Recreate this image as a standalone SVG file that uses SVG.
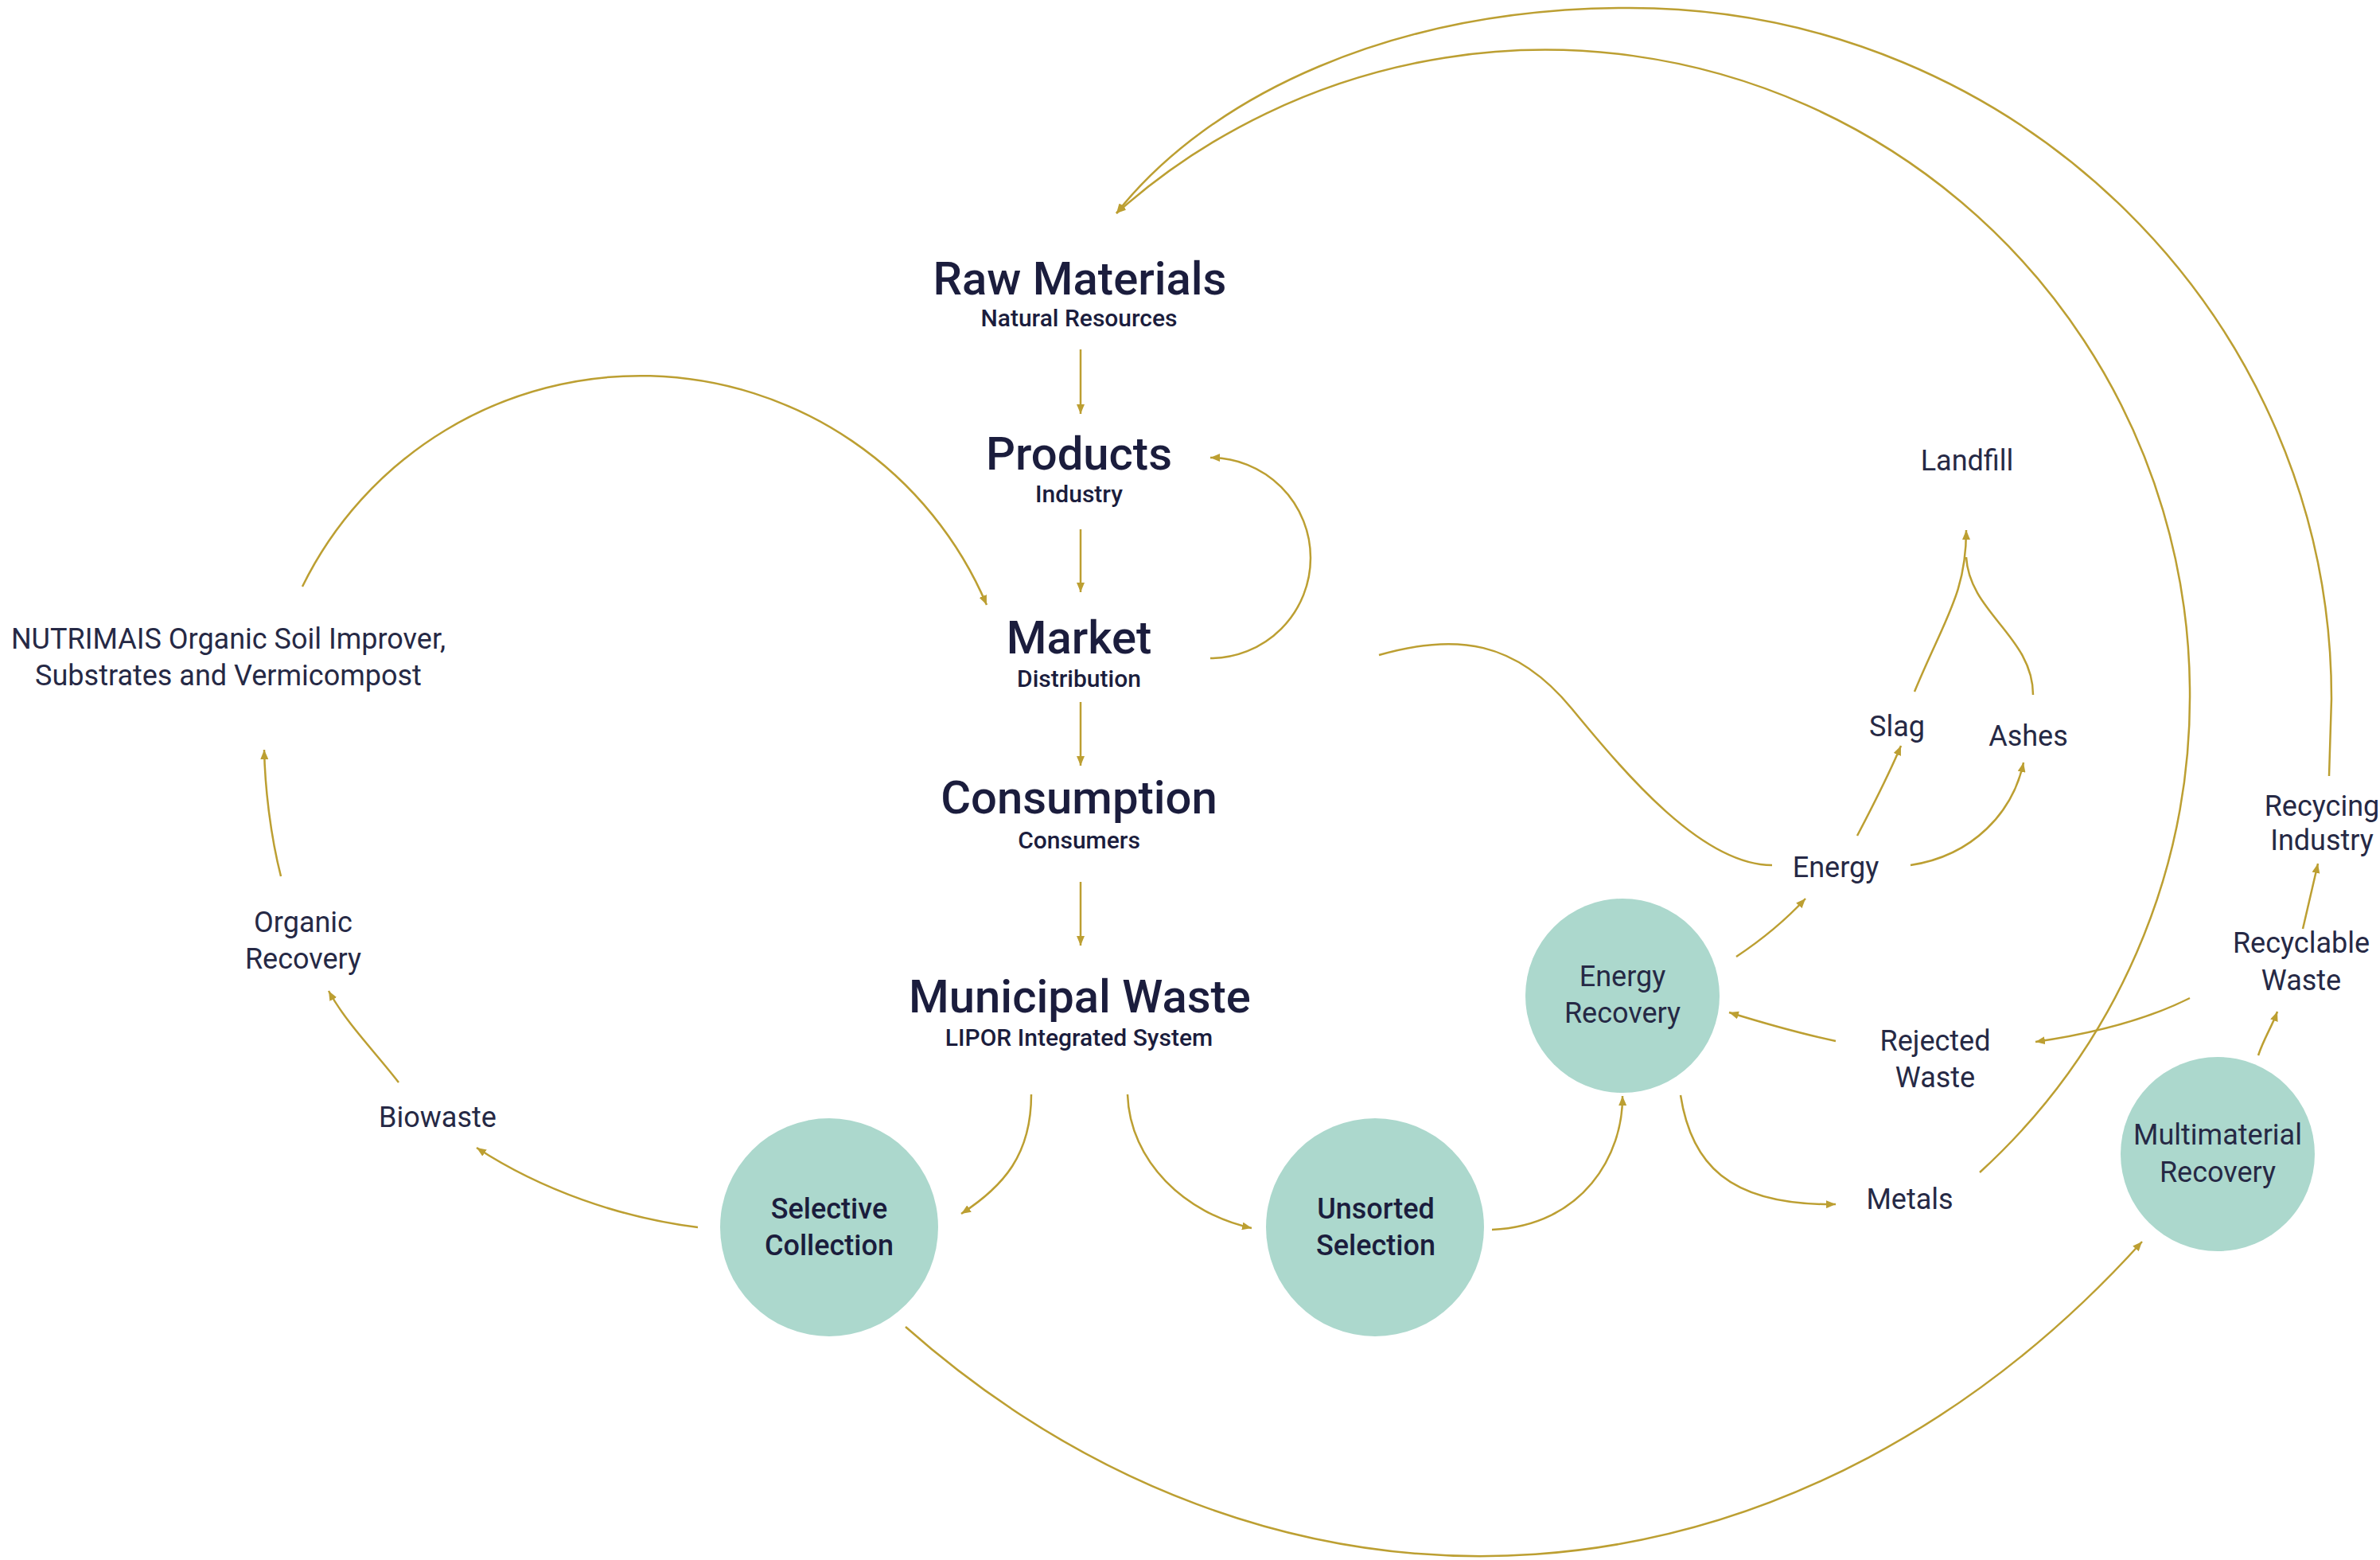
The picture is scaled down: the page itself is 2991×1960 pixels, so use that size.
<svg xmlns="http://www.w3.org/2000/svg" width="2991" height="1960" viewBox="0 0 2991 1960">
<style>
.title{font-family:Roboto,"Liberation Sans",sans-serif;font-weight:500;font-size:58px;fill:#1b1d3d;text-anchor:middle}
.sub{font-family:Roboto,"Liberation Sans",sans-serif;font-weight:500;font-size:30px;fill:#1b1d3d;text-anchor:middle}
.lbl{font-family:Roboto,"Liberation Sans",sans-serif;font-weight:400;font-size:36px;fill:#262945;text-anchor:middle}
.clbl{font-family:Roboto,"Liberation Sans",sans-serif;font-weight:500;font-size:36px;fill:#1b1d3d;text-anchor:middle}
.circ{fill:#acd8cd}
.conn path{fill:none;stroke:#bc9f32;stroke-width:2.5}
</style>
<defs>
<marker id="ah" viewBox="0 0 12 10" refX="12" refY="5" markerWidth="12" markerHeight="10" markerUnits="userSpaceOnUse" orient="auto">
<path d="M0,0 L12,5 L0,10 Z" fill="#bc9f32"/>
</marker>
</defs>
<rect width="2991" height="1960" fill="#ffffff"/>
<g class="conn">
<path d="M1358 439 L1358 520" marker-end="url(#ah)"/>
<path d="M1358 665 L1358 744" marker-end="url(#ah)"/>
<path d="M1358 882 L1358 962" marker-end="url(#ah)"/>
<path d="M1358 1108 L1358 1188" marker-end="url(#ah)"/>
<path d="M1521 827 A126 126 0 0 0 1521 575" marker-end="url(#ah)"/>
<path d="M380 737 A473 473 0 0 1 1240 760" marker-end="url(#ah)"/>
<path d="M1733 823 C1830 795 1905 805 1975 890 S2140 1087 2227 1087"/>
<path d="M2488 1473 A810 810 0 0 0 2752 865 A810 810 0 0 0 1403 268" marker-end="url(#ah)"/>
<path d="M2927 975 L2930 878 C2930 399 2535 10 2048 10 C1750 10 1520 120 1403 268" marker-end="url(#ah)"/>
<path d="M1138 1667 A1263 1600 0 0 0 2692 1560" marker-end="url(#ah)"/>
<path d="M1296 1375 C1296 1450 1262 1490 1208 1525" marker-end="url(#ah)"/>
<path d="M1417 1375 C1420 1460 1490 1525 1573 1543" marker-end="url(#ah)"/>
<path d="M877 1542 C780 1530 680 1495 599 1442" marker-end="url(#ah)"/>
<path d="M501 1360 C470 1320 435 1285 413 1245" marker-end="url(#ah)"/>
<path d="M353 1101 C340 1050 333 990 332 942" marker-end="url(#ah)"/>
<path d="M1875 1545 C1990 1540 2040 1450 2039 1377" marker-end="url(#ah)"/>
<path d="M2112 1376 C2125 1460 2170 1515 2307 1513" marker-end="url(#ah)"/>
<path d="M2182 1202 C2215 1180 2245 1155 2269 1129" marker-end="url(#ah)"/>
<path d="M2307 1308 C2260 1298 2215 1285 2173 1272" marker-end="url(#ah)"/>
<path d="M2752 1254 C2690 1285 2620 1300 2558 1309" marker-end="url(#ah)"/>
<path d="M2838 1326 C2845 1305 2855 1290 2862 1271" marker-end="url(#ah)"/>
<path d="M2894 1167 C2900 1140 2907 1112 2913 1085" marker-end="url(#ah)"/>
<path d="M2334 1050 C2355 1010 2375 970 2389 937" marker-end="url(#ah)"/>
<path d="M2401 1087 C2480 1075 2530 1020 2543 958" marker-end="url(#ah)"/>
<path d="M2406 869 C2445 775 2471 745 2471 666" marker-end="url(#ah)"/>
<path d="M2555 873 C2555 800 2475 770 2471 700"/>
</g>
<g id="raw-materials"><text class="title" x="1357" y="370">Raw Materials</text><text class="sub" x="1356" y="410">Natural Resources</text></g>
<g id="products"><text class="title" x="1356" y="590">Products</text><text class="sub" x="1356" y="631">Industry</text></g>
<g id="market"><text class="title" x="1356" y="821">Market</text><text class="sub" x="1356" y="863">Distribution</text></g>
<g id="consumption"><text class="title" x="1356" y="1022">Consumption</text><text class="sub" x="1356" y="1066">Consumers</text></g>
<g id="municipal-waste"><text class="title" x="1357" y="1272">Municipal Waste</text><text class="sub" x="1356" y="1314">LIPOR Integrated System</text></g>
<g id="nutrimais"><text class="lbl" x="287" y="815">NUTRIMAIS Organic Soil Improver,</text><text class="lbl" x="287" y="861">Substrates and Vermicompost</text></g>
<g id="organic-recovery"><text class="lbl" x="381" y="1171">Organic</text><text class="lbl" x="381" y="1217">Recovery</text></g>
<g id="biowaste"><text class="lbl" x="550" y="1416">Biowaste</text></g>
<g id="selective-collection"><circle class="circ" cx="1042" cy="1542" r="137"/><text class="clbl" x="1042" y="1531">Selective</text><text class="clbl" x="1042" y="1577">Collection</text></g>
<g id="unsorted-selection"><circle class="circ" cx="1728" cy="1542" r="137"/><text class="clbl" x="1729" y="1531">Unsorted</text><text class="clbl" x="1729" y="1577">Selection</text></g>
<g id="energy-recovery"><circle class="circ" cx="2039" cy="1251" r="122"/><text class="lbl" x="2039" y="1239">Energy</text><text class="lbl" x="2039" y="1285">Recovery</text></g>
<g id="multimaterial-recovery"><circle class="circ" cx="2787" cy="1450" r="122"/><text class="lbl" x="2787" y="1438">Multimaterial</text><text class="lbl" x="2787" y="1485">Recovery</text></g>
<g id="landfill"><text class="lbl" x="2472" y="591">Landfill</text></g>
<g id="slag"><text class="lbl" x="2384" y="925">Slag</text></g>
<g id="ashes"><text class="lbl" x="2549" y="937">Ashes</text></g>
<g id="energy"><text class="lbl" x="2307" y="1102">Energy</text></g>
<g id="rejected-waste"><text class="lbl" x="2432" y="1320">Rejected</text><text class="lbl" x="2432" y="1366">Waste</text></g>
<g id="metals"><text class="lbl" x="2400" y="1519">Metals</text></g>
<g id="recyclable-waste"><text class="lbl" x="2892" y="1197">Recyclable</text><text class="lbl" x="2892" y="1244">Waste</text></g>
<g id="recycling-industry"><text class="lbl" x="2918" y="1025">Recycing</text><text class="lbl" x="2918" y="1068">Industry</text></g>
</svg>
